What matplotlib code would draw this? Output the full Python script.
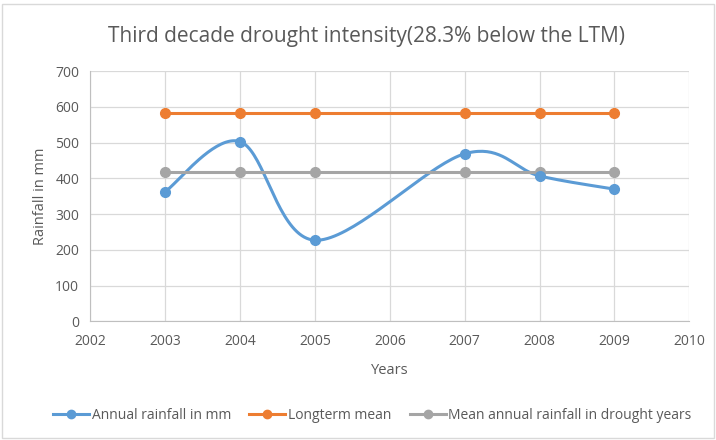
import numpy as np
import matplotlib
matplotlib.use("Agg")
import matplotlib.pyplot as plt
from matplotlib.patches import Rectangle

plt.rcParams['font.family'] = ['Open Sans', 'DejaVu Sans']

# data
years = [2003, 2004, 2005, 2007, 2008, 2009]
annual_rain = [363, 503, 227, 469, 407, 370]
longterm_mean = [584, 584, 584, 584, 584, 584]
drought_mean = [419, 419, 419, 419, 419, 419]

blue = '#5B9BD5'
orange = '#ED7D31'
gray = '#A5A5A5'
txt = '#595959'


def smooth(xs, ys, n=40):
    # Excel style smoothed line: cubic bezier with catmull-rom control points
    xs = np.asarray(xs, float)
    ys = np.asarray(ys, float)
    px = np.concatenate([[xs[0]], xs, [xs[-1]]])
    py = np.concatenate([[ys[0]], ys, [ys[-1]]])
    out_x, out_y = [], []
    t = np.linspace(0, 1, n)
    for i in range(1, len(px) - 2):
        p0 = np.array([px[i], py[i]])
        p3 = np.array([px[i + 1], py[i + 1]])
        p1 = p0 + (np.array([px[i + 1], py[i + 1]]) - np.array([px[i - 1], py[i - 1]])) / 6
        p2 = p3 - (np.array([px[i + 2], py[i + 2]]) - np.array([px[i], py[i]])) / 6
        b = ((1 - t) ** 3)[:, None] * p0 + (3 * (1 - t) ** 2 * t)[:, None] * p1 \
            + (3 * (1 - t) * t ** 2)[:, None] * p2 + (t ** 3)[:, None] * p3
        out_x.extend(b[:, 0])
        out_y.extend(b[:, 1])
    return out_x, out_y


fig = plt.figure(figsize=(7.16, 4.4), dpi=100)
ax = fig.add_axes([0.1261, 0.2698, 0.8366, 0.5682])

sx, sy = smooth(years, annual_rain)
ax.plot(sx, sy, color=blue, lw=2.2, zorder=3)
ax.plot(years, annual_rain, 'o', color=blue, ms=7, zorder=4)
ax.plot(years, longterm_mean, '-o', color=orange, lw=2.2, ms=7, zorder=3)
ax.plot(years, drought_mean, '-o', color=gray, lw=2.2, ms=7, zorder=3)

ax.set_xlim(2002, 2010)
ax.set_ylim(0, 700)
ax.set_xticks(range(2002, 2011))
ax.set_yticks(range(0, 701, 100))
ax.grid(True, color='#D9D9D9', lw=0.9)
ax.set_axisbelow(True)
for s in ['top', 'right']:
    ax.spines[s].set_visible(False)
for s in ['left', 'bottom']:
    ax.spines[s].set_color('#BFBFBF')
ax.tick_params(length=0, colors=txt, labelsize=10, pad=9)
ax.tick_params(axis='y', pad=8)
ax.set_xlabel('Years', color=txt, fontsize=10.5, labelpad=10)
ax.set_ylabel('Rainfall in mm', color=txt, fontsize=10.5, labelpad=5)

fig.text(0.512, 0.918, 'Third decade drought intensity(28.3% below the LTM)',
         ha='center', va='center', fontsize=15, color=txt)

h1, = ax.plot([], [], '-o', color=blue, lw=2.2, ms=6)
h2, = ax.plot([], [], '-o', color=orange, lw=2.2, ms=6)
h3, = ax.plot([], [], '-o', color=gray, lw=2.2, ms=6)
leg = fig.legend([h1, h2, h3],
                 ['Annual rainfall in mm', 'Longterm mean', 'Mean annual rainfall in drought years'],
                 loc='center', bbox_to_anchor=(0.52, 0.055), ncol=3, frameon=False,
                 fontsize=10, handlelength=2.6, handletextpad=0.2, columnspacing=1.3)
for t in leg.get_texts():
    t.set_color(txt)

fig.patches.append(Rectangle((0.003, 0.005), 0.994, 0.985, transform=fig.transFigure,
                             fill=False, edgecolor='#D9D9D9', lw=1))

fig.savefig('out.png', dpi=100)
